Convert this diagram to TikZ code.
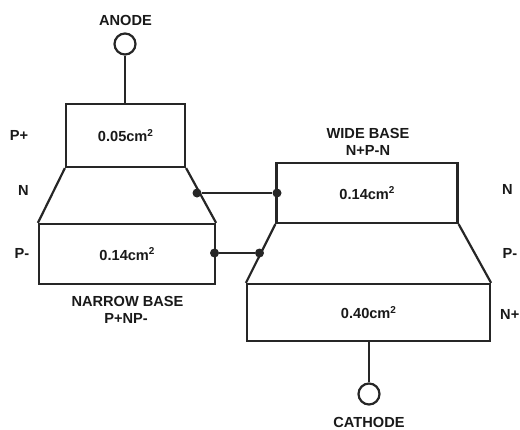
\documentclass[tikz,border=0pt]{standalone}
\usepackage{fontspec}
\setmainfont{Liberation Sans}
\newcommand{\sqr}{\raisebox{5.5pt}{\fontsize{10}{10}\selectfont\bfseries 2}}
\tikzset{
  lbl/.style={font=\fontsize{14.6}{16}\selectfont\bfseries,inner sep=0pt,align=center,text=black!90},
  region/.style={draw=black!85,line width=2.2pt,inner sep=0pt,font=\fontsize{14.6}{16}\selectfont\bfseries,text=black!90},
  term/.style={circle,draw=black!85,line width=2.2pt,inner sep=0pt,minimum size=21pt},
  wire/.style={draw=black!85,line width=2.2pt},
  junction/.style={circle,fill=black!85,inner sep=0pt,minimum size=9pt},
}
\begin{document}
\begin{tikzpicture}[x=1pt,y=-1pt]
\useasboundingbox (0,0) rectangle (520,429);
% left device
\node[region,minimum width=119pt,minimum height=63pt] (pplus) at (125.5,135.5) {0.05cm\sqr};
\node[region,minimum width=176pt,minimum height=60pt] (pminus) at (127,254) {0.14cm\sqr};
\draw[wire] (pplus.south west) -- (pminus.north west);
\draw[wire] (pplus.south east) -- (pminus.north east);
% right device
\node[region,minimum width=181pt,minimum height=60pt] (nright) at (367,193) {0.14cm\sqr};
\node[region,minimum width=243pt,minimum height=57pt] (nplus) at (368.5,312.5) {0.40cm\sqr};
\draw[wire] (nright.south west) -- (nplus.north west);
\draw[wire] (nright.south east) -- (nplus.north east);
% terminals
\node[term] (anode) at (125,44) {};
\node[term] (cathode) at (369,394) {};
\draw[wire] (anode) -- (anode|-pplus.north);
\draw[wire] (cathode) -- (cathode|-nplus.south);
% junctions
\node[junction] (j1) at (197,193) {};
\node[junction] (j2) at (277,193) {};
\node[junction] (j3) at (214.5,253) {};
\node[junction] (j4) at (259.5,253) {};
\draw[wire] (j1) -- (j2);
\draw[wire] (j3) -- (j4);
% labels
\node[lbl] (lanode) at (125.5,20) {ANODE};
\node[lbl] (lcathode) at (369,422) {CATHODE};
\node[lbl] (lpp) at (19,135) {P+};
\node[lbl] (ln) at (23.5,190) {N};
\node[lbl] (lpm) at (22,253) {P-};
\node[lbl] (lnarrow) at (127.5,301) {NARROW BASE};
\node[lbl] (lnarrow2) at (126,318) {P+NP-};
\node[lbl] (lwide) at (368,133) {WIDE BASE};
\node[lbl] (lwide2) at (368,150) {N+P-N};
\node[lbl] (rn) at (507.5,189) {N};
\node[lbl] (rpm) at (510,253) {P-};
\node[lbl,anchor=east] (rnp) at (519.5,314) {N+};
\end{tikzpicture}
\end{document}
